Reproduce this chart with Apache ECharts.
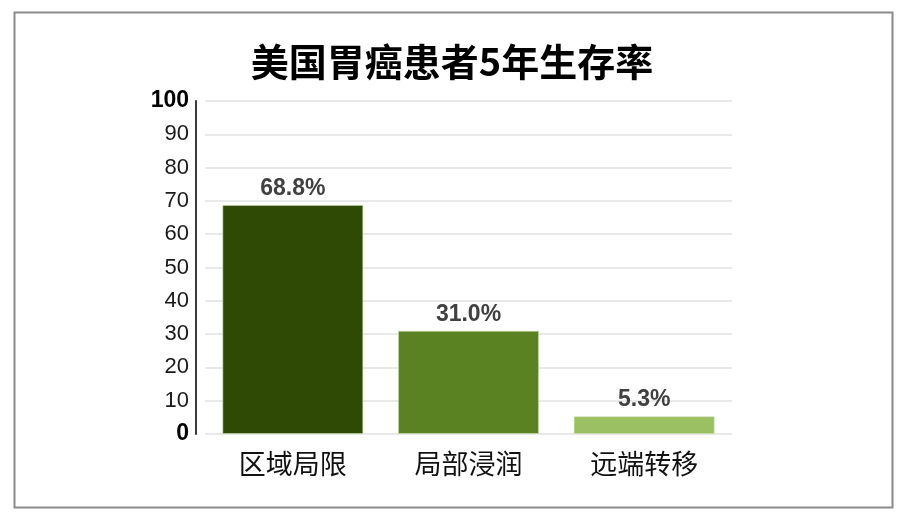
<!DOCTYPE html>
<html><head><meta charset="utf-8">
<script src="https://cdn.jsdelivr.net/npm/echarts@6/dist/echarts.min.js"></script>
<style>html,body{margin:0;padding:0;background:#fff}#c{width:904px;height:514px}</style>
</head><body><div id="c"></div>
<script>
const titleText = '美国胃癌患者5年生存率';
const categories = ['区域局限', '局部浸润', '远端转移'];
const values = [68.8, 31.0, 5.3];
const barColors = ['#2f4a05', '#5b8222', '#9bc063'];
const yMin = 0, yMax = 100, yStep = 10;

const chart = echarts.init(document.getElementById('c'));
chart.setOption({
  animation: false,
  backgroundColor: '#fff',
  graphic: [{
    type: 'rect', left: 12, top: 10,
    shape: { width: 878, height: 495 },
    style: { fill: 'none', stroke: '#8a8a8a', lineWidth: 2 }
  }],
  title: {
    text: titleText, left: 'center', top: 38,
    textStyle: { fontFamily: 'Noto Sans CJK SC', fontSize: 38, fontWeight: 'bold', color: '#000' }
  },
  grid: { left: 205, right: 172, top: 101, bottom: 80 },
  xAxis: {
    type: 'category', data: categories,
    axisLine: { show: false }, axisTick: { show: false },
    axisLabel: { fontFamily: 'Noto Sans CJK SC', fontSize: 27, color: '#111', margin: 16 }
  },
  yAxis: {
    type: 'value', min: yMin, max: yMax, interval: yStep, offset: 9,
    axisLine: { show: true, lineStyle: { color: '#3a3a3a', width: 2 } },
    axisTick: { show: false },
    splitLine: { lineStyle: { color: '#e2e2e2', width: 1.5 } },
    axisLabel: {
      margin: 7, fontFamily: 'Liberation Sans, Arial', fontSize: 22, color: '#1a1a1a',
      formatter: v => (v === yMin || v === yMax) ? '{b|' + v + '}' : String(v),
      rich: { b: { fontWeight: 'bold', fontSize: 23, color: '#000', fontFamily: 'Liberation Sans, Arial' } }
    }
  },
  series: [{
    type: 'bar',
    data: values.map((v, i) => ({ value: v, itemStyle: { color: barColors[i] } })),
    barWidth: 141,
    itemStyle: { borderColor: 'rgba(200,220,170,0.6)', borderWidth: 1 },
    label: {
      show: true, position: 'top', distance: 5,
      formatter: p => p.value.toFixed(1) + '%',
      fontFamily: 'Liberation Sans, Arial', fontSize: 23, fontWeight: 'bold', color: '#404040'
    }
  }]
});
</script></body></html>
